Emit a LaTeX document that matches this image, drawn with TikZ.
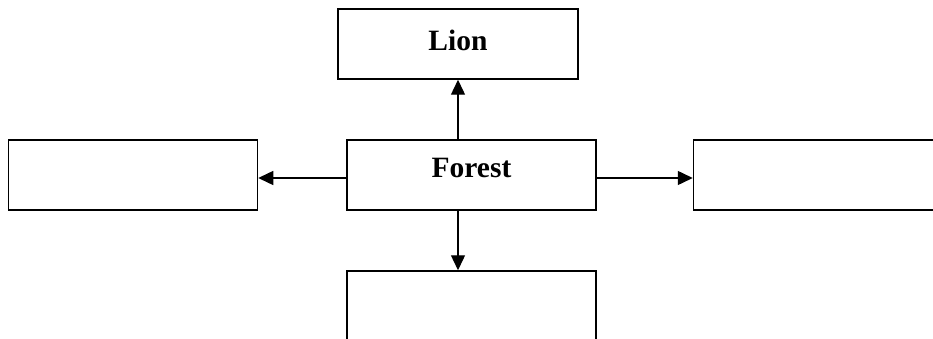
\documentclass[tikz,border=0pt]{standalone}
\usepackage{fontspec}
\setmainfont{Liberation Serif}
\usetikzlibrary{arrows.meta, positioning, calc}

\begin{document}
\begin{tikzpicture}[x=1pt, y=-1pt,
                every node/.style={inner sep=0pt, font=\fontsize{29.5}{31}\selectfont\bfseries},
                box/.style={draw, line width=1.5pt, minimum width=249pt, minimum height=70pt, text height=37pt, text depth=33pt},
                topbox/.style={box, minimum width=240pt, text height=42pt, text depth=28pt},
                link/.style={line width=1.4pt, -{Triangle[length=15pt, width=14pt]}}]

    \useasboundingbox (0,0) rectangle (933,339); % fixed to the page size

    \node [box]    (forest) at (471.5,175) {Forest};
    \node [topbox] (lion)   at (458,44)    {Lion};
    \node [box]    (west)   at (133,175)   {};
    \node [box]    (east)   at (818,175)   {};
    \node [box]    (south)  at (471.5,306) {};

    \draw [link] (forest.north -| lion.south) -- (lion.south);
    \draw [link] (forest.south -| lion.south) -- (south.north -| lion.south);
    \draw [link] ([yshift=-3pt]forest.west) -- ([yshift=-3pt]forest.west -| west.east);
    \draw [link] ([yshift=-3pt]forest.east) -- ([yshift=-3pt]forest.east -| east.west);

\end{tikzpicture}
\end{document}
